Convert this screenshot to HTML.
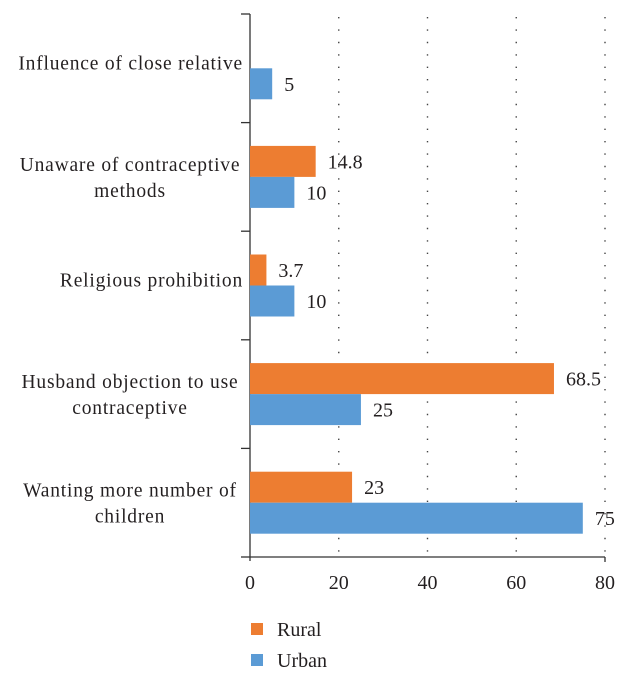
<!DOCTYPE html>
<html><head><meta charset="utf-8">
<style>
body{margin:0;background:#fff;width:629px;height:680px;overflow:hidden}
svg text{font-family:"Liberation Serif",serif;fill:#231f20}
</style></head>
<body>
<svg id="chart" width="629" height="680" xmlns="http://www.w3.org/2000/svg"></svg>
<script>
const categories=["Influence of close relative","Unaware of contraceptive|methods","Religious prohibition","Husband objection to use|contraceptive","Wanting more number of|children"];
const rural=[null,14.8,3.7,68.5,23];
const urban=[5,10,10,25,75];
const ruralLabels=["","14.8","3.7","68.5","23"];
const urbanLabels=["5","10","10","25","75"];
const xTicks=[0,20,40,60,80];
const NS="http://www.w3.org/2000/svg";
const svg=document.getElementById('chart');
const x0=250,x1=605,yTop=14,yBottom=557,xmax=80;
const X=v=>x0+(v/xmax)*(x1-x0);
const band=(yBottom-yTop)/categories.length;
const Y=i=>yTop+band*i;
function el(t,a,p){const e=document.createElementNS(NS,t);for(const k in a)e.setAttribute(k,a[k]);(p||svg).appendChild(e);return e;}
xTicks.forEach((t,i)=>{
  if(t>0){const g=el('line',{x1:X(t),x2:X(t),y1:yTop+3,y2:yBottom,stroke:'#444','stroke-width':1.4,'stroke-dasharray':'1.4,11'});
  
  }
  const tl=el('text',{x:X(t),y:589,'text-anchor':'middle','font-size':20});
  tl.textContent=t;
  
  
});
const ax=el('line',{x1:x0,x2:x0,y1:yTop,y2:yBottom+4,stroke:'#333','stroke-width':1.3});


const bx=el('line',{x1:x0,x2:x1,y1:yBottom,y2:yBottom,stroke:'#333','stroke-width':1.3});


const xt=el('line',{x1:x1,x2:x1,y1:yBottom,y2:yBottom+5,stroke:'#333','stroke-width':1.3});


for(let i=0;i<=categories.length;i++){
  const tk=el('line',{x1:x0-9,x2:x0,y1:Y(i),y2:Y(i),stroke:'#333','stroke-width':1.3});
  
  
}
const bh=31;
categories.forEach((c,i)=>{
  const cy=Y(i)+band/2;
  const lines=c.split('|');
  const multi=lines.length>1;
  const ax2=multi?130:243;
  const t=el('text',{x:ax2,'text-anchor':multi?'middle':'end','font-size':19.5,'letter-spacing':0.8});
  
  
  lines.forEach((l,j)=>{const ts=el('tspan',{x:ax2,y:multi?cy-6+j*26:cy+1},t);ts.textContent=l;});
  if(rural[i]!=null){
    const r=el('rect',{x:x0,y:cy-bh,width:X(rural[i])-x0,height:bh,fill:'#ED7D31'});
    
    
    const rl=el('text',{x:X(rural[i])+12,y:cy-bh/2+7,'font-size':20});
    rl.textContent=ruralLabels[i];
    
    
  }
  const u=el('rect',{x:x0,y:cy,width:X(urban[i])-x0,height:bh,fill:'#5B9BD5'});
  
  
  const ul=el('text',{x:X(urban[i])+12,y:cy+bh/2+7,'font-size':20});
  ul.textContent=urbanLabels[i];
  
  
});
[['Rural','#ED7D31',623],['Urban','#5B9BD5',654]].forEach(([n,c,y])=>{
  const s=el('rect',{x:251,y:y,width:12,height:12,fill:c});
  
  
  const t=el('text',{x:277,y:y+13,'font-size':20});
  t.textContent=n;
  
  
});
</script>
</body></html>
